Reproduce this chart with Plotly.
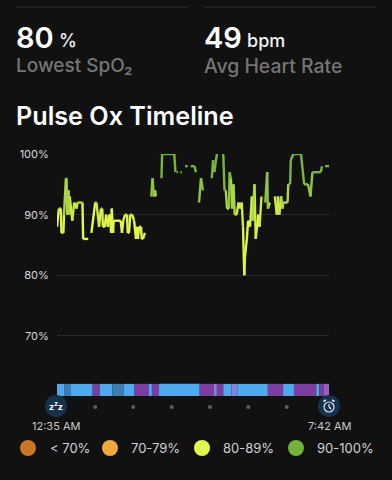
import plotly.graph_objects as go

W, H = 392, 480
BG = "#111111"
FONT = "Inter"

# minutes after 12:35 AM; None marks a gap in the recording
minutes = [0,3,6,7,10,11,14,15,16,18,19,20,24,27,31,32,40,41,49,None,
           54,60,62,66,69,71,72,75,77,80,82,83,85,86,88,89,100,102,104,107,110,111,113,115,118,121,124,126,127,129,132,133,135,138,None,
           148,150,152,154,155,None,
           164,165,184,186,None,188,190,None,194,196,None,201,205,None,210,216,218,None,
           223,226,229,None,
           243,245,247,251,None,
           261,263,265,267,270,271,273,275,277,279,282,285,287,290,292,294,295,298,300,303,306,307,310,312,316,318,321,None,
           327,330,331,334,None,
           342,345,347,349,352,354,355,362,363,366,367,371,383,388,394,398,401,414,416,None,
           421,427]
spo2 = [88,91,91,87,87,90,96,96,90,94,90,93,89,92,91,92,92,86,86,None,
        87,92,92,88,91,91,88,88,90,88,90,90,87,91,87,89,89,87,89,90,90,87,87,90,90,89,86,88,86,88,88,86,86,87,None,
        93,96,93,94,93,None,
        96,100,100,97,None,97,97,None,97,97,None,98,98,None,98,98,97,None,
        92,96,94,None,
        96,99,97,100,None,
        100,94,94,91,91,97,96,91,95,90,90,92,91,92,88,80,83,86,89,88,93,89,95,86,90,88,93,None,
        92,97,91,92,None,
        93,90,93,90,93,91,92,92,95,95,99,100,100,95,95,93,97,97,98,None,
        98,98]

total_minutes = 427
y_ticks = [100, 90, 80, 70]
y_tick_labels = ["100%", "90%", "80%", "70%"]

BLUE, DARK, PURPLE, LAV, PALE = "#4FA9EE", "#3A7FB2", "#7B3FA3", "#7E86D8", "#9A5FC0"
stage_minutes = [12,10,34,11,20,18,16,23,5,11,64,24,3,10,13,9,48,24,17,35,5,7,8]
stage_colors = [BLUE,DARK,BLUE,PURPLE,BLUE,DARK,BLUE,PURPLE,BLUE,PURPLE,BLUE,PURPLE,LAV,PURPLE,
                BLUE,LAV,BLUE,PURPLE,BLUE,PURPLE,BLUE,PURPLE,PALE]

legend_labels = ["< 70%", "70-79%", "80-89%", "90-100%"]
legend_colors = ["#C8772B", "#F2A93B", "#E4F84F", "#72B33A"]

bands = [(0, 90, "#E2F54E"), (90, 92, "#CDEA4A"), (92, 94, "#ACD645"), (94, 96, "#90C540"), (96, 101, "#78B53C")]


def px(x):
    return x / W


def py(y):
    return 1 - y / H


fig = go.Figure()

# line: each segment coloured by its SpO2 level
for lo, hi, col in bands:
    xs, ys = [], []
    for i in range(len(minutes) - 1):
        if minutes[i] is None or minutes[i + 1] is None:
            continue
        mid = (spo2[i] + spo2[i + 1]) / 2
        if lo <= mid < hi:
            xs += [minutes[i], minutes[i + 1], None]
            ys += [spo2[i], spo2[i + 1], None]
    fig.add_trace(go.Scatter(x=xs, y=ys, mode="lines", cliponaxis=False, showlegend=False, hoverinfo="skip",
                             line=dict(color=col, width=2.4, shape="linear")))

# sleep stage bar
starts = []
t = 0
for d in stage_minutes:
    starts.append(t)
    t += d
fig.add_trace(go.Bar(orientation="h", base=starts, x=stage_minutes, y=[61.1] * len(stage_minutes), width=2,
                     marker=dict(color=stage_colors, line=dict(width=0)), showlegend=False, hoverinfo="skip"))

shapes = []
annots = []


def text(x, y, s, size, color, weight=400, anchor="left"):
    annots.append(dict(x=px(x), y=py(y), xref="paper", yref="paper", text=s, showarrow=False,
                       xanchor=anchor, yanchor="middle", borderpad=0,
                       font=dict(family=FONT, size=size, color=color, weight=weight)))


def circle(cx, cy, r, fill, line=None, lw=0):
    shapes.append(dict(type="circle", xref="paper", yref="paper", x0=px(cx - r), x1=px(cx + r),
                       y0=py(cy + r), y1=py(cy - r), fillcolor=fill,
                       line=dict(color=line or fill, width=lw)))


def seg(x0, y0, x1, y1, color, w=1):
    shapes.append(dict(type="line", xref="paper", yref="paper", x0=px(x0), x1=px(x1), y0=py(y0), y1=py(y1),
                       line=dict(color=color, width=w)))


# header
seg(16, 7, 188, 7, "#2b2b2b", 1)
seg(204, 7, 376, 7, "#2b2b2b", 1)
text(15, 37, "80", 29, "#ffffff", 600)
text(58, 40, "%", 18, "#f2f2f2", 500)
text(203, 37, "49", 29, "#ffffff", 600)
text(246, 40, "bpm", 18, "#f2f2f2", 500)
text(15, 66, "Lowest SpO₂", 19, "#757575", 500)
text(203, 66, "Avg Heart Rate", 19.4, "#757575", 500)
text(15, 116, "Pulse Ox Timeline", 25.2, "#ffffff", 600)

# timeline markers
for dx in [95.3, 133.3, 171.7, 210, 248.3, 286.7]:
    circle(dx, 407, 2, "#5f5f5f")
circle(56, 406, 11, "#17324d")
text(56, 406, "z<sup>z</sup>z", 9, "#ffffff", 700, "center")
circle(329, 406, 11, "#17324d")
circle(329, 407, 5, "rgba(0,0,0,0)", "#dfe6ee", 1.2)
seg(329, 404, 329, 407, "#dfe6ee", 1.2)
seg(329, 407, 331, 409, "#dfe6ee", 1.2)
seg(323.5, 401.5, 326, 399.8, "#dfe6ee", 1.6)
seg(334.5, 401.5, 332, 399.8, "#dfe6ee", 1.6)
text(56, 426, "12:35 AM", 11, "#c8c8c8", 400, "center")
text(329, 426, "7:42 AM", 11, "#c8c8c8", 400, "center")

# colour legend
for cx, tx, lab, col in zip([28, 110, 202, 296], [49, 130, 222, 316], legend_labels, legend_colors):
    circle(cx, 448, 8, col)
    text(tx, 448, lab, 13, "#d2d2d2", 400)

fig.update_layout(
    width=W, height=H, margin=dict(l=0, r=0, t=0, b=0, pad=0, autoexpand=False),
    paper_bgcolor=BG, plot_bgcolor=BG, shapes=shapes, annotations=annots,
    showlegend=False, barmode="overlay",
    font=dict(family=FONT),
    xaxis=dict(domain=[px(57), px(329)], range=[0, total_minutes], visible=False, fixedrange=True),
    yaxis=dict(domain=[py(396), py(154)], range=[60.1, 100], tickmode="array", tickvals=y_ticks,
               ticktext=y_tick_labels, showgrid=True, gridcolor="#272727", gridwidth=1, zeroline=False,
               showline=False, ticks="outside", ticklen=5, tickcolor="rgba(0,0,0,0)",
               tickfont=dict(family=FONT, size=11, color="#d8d8d8"), fixedrange=True),
)

fig.write_html("out.html", config=dict(displayModeBar=False), default_width="392px", default_height="480px",
               post_script="document.documentElement.style.margin='0';document.body.style.margin='0';"
                           "document.body.style.background='#111111';"
                           "Plotly.relayout(document.getElementById('{plot_id}'),{width:392,height:480});")
